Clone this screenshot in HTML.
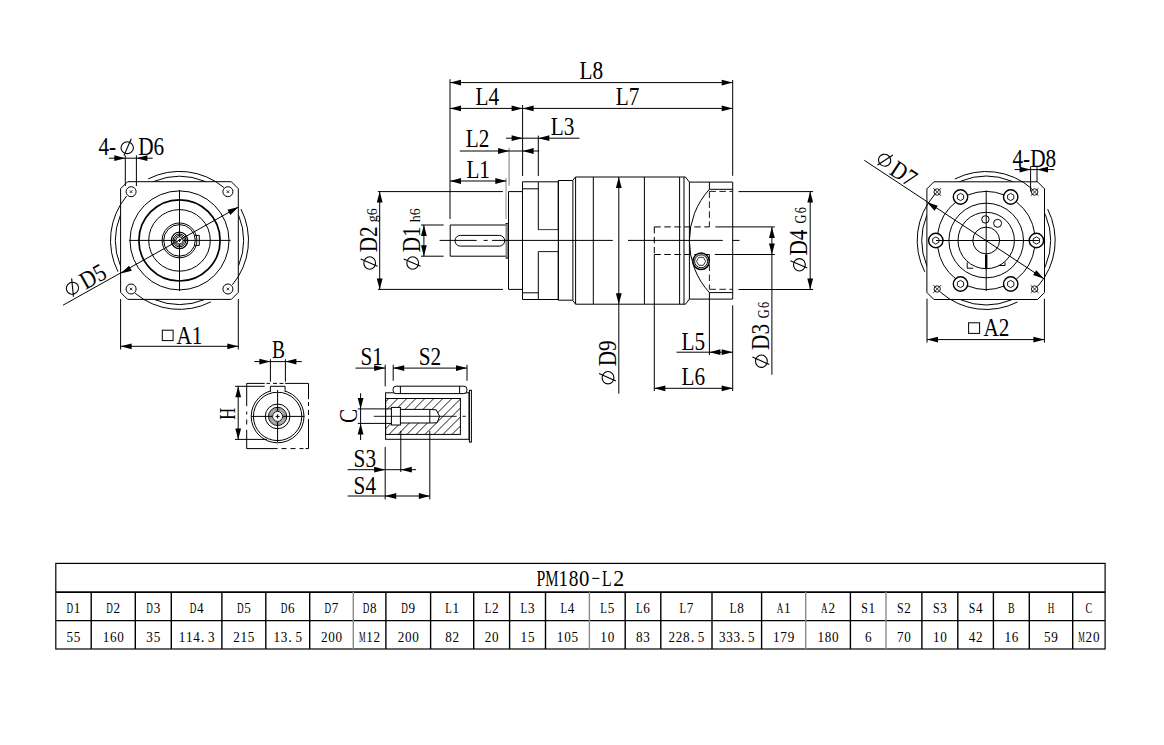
<!DOCTYPE html>
<html><head><meta charset="utf-8"><title>PM180-L2</title>
<style>html,body{margin:0;padding:0;background:#fff;}svg{display:block;}</style></head>
<body><svg width="1164" height="745" viewBox="0 0 1164 745">
<rect width="1164" height="745" fill="#fff"/>
<circle cx="179.50" cy="240.40" r="64.20" fill="none" stroke="#000" stroke-width="1.0"/>
<polygon points="127.60,181.70 231.30,181.70 238.30,188.70 238.30,292.40 231.30,299.40 127.60,299.40 120.60,292.40 120.60,188.70" fill="#fff" stroke="#000" stroke-width="1"/>
<circle cx="131.10" cy="191.70" r="5.00" fill="none" stroke="#000" stroke-width="1.0"/>
<line x1="129.80" y1="190.40" x2="132.40" y2="193.00" stroke="#000" stroke-width="0.8"/>
<line x1="129.80" y1="193.00" x2="132.40" y2="190.40" stroke="#000" stroke-width="0.8"/>
<circle cx="227.90" cy="191.70" r="5.00" fill="none" stroke="#000" stroke-width="1.0"/>
<line x1="226.60" y1="190.40" x2="229.20" y2="193.00" stroke="#000" stroke-width="0.8"/>
<line x1="226.60" y1="193.00" x2="229.20" y2="190.40" stroke="#000" stroke-width="0.8"/>
<circle cx="131.10" cy="289.00" r="5.00" fill="none" stroke="#000" stroke-width="1.0"/>
<line x1="129.80" y1="287.70" x2="132.40" y2="290.30" stroke="#000" stroke-width="0.8"/>
<line x1="129.80" y1="290.30" x2="132.40" y2="287.70" stroke="#000" stroke-width="0.8"/>
<circle cx="227.90" cy="289.00" r="5.00" fill="none" stroke="#000" stroke-width="1.0"/>
<line x1="226.60" y1="287.70" x2="229.20" y2="290.30" stroke="#000" stroke-width="0.8"/>
<line x1="226.60" y1="290.30" x2="229.20" y2="287.70" stroke="#000" stroke-width="0.8"/>
<path d="M148.17,178.92 A69.00,69.00 0 0 1 223.85,187.54" fill="none" stroke="#000" stroke-width="1.0"/>
<path d="M118.02,271.73 A69.00,69.00 0 0 1 126.64,196.05" fill="none" stroke="#000" stroke-width="1.0"/>
<path d="M210.83,301.88 A69.00,69.00 0 0 1 135.15,293.26" fill="none" stroke="#000" stroke-width="1.0"/>
<path d="M240.98,209.07 A69.00,69.00 0 0 1 232.36,284.75" fill="none" stroke="#000" stroke-width="1.0"/>
<circle cx="179.50" cy="240.40" r="49.50" fill="none" stroke="#000" stroke-width="1.0"/>
<circle cx="179.50" cy="240.40" r="40.60" fill="none" stroke="#000" stroke-width="1.7"/>
<circle cx="179.50" cy="240.40" r="30.80" fill="none" stroke="#000" stroke-width="1.0"/>
<circle cx="179.50" cy="240.40" r="17.40" fill="none" stroke="#000" stroke-width="1.0"/>
<circle cx="179.50" cy="240.40" r="15.80" fill="none" stroke="#000" stroke-width="1.0"/>
<circle cx="179.50" cy="240.40" r="8.20" fill="none" stroke="#000" stroke-width="1.3"/>
<circle cx="179.50" cy="240.40" r="6.40" fill="none" stroke="#000" stroke-width="1.0"/>
<circle cx="179.50" cy="240.40" r="4.90" fill="none" stroke="#000" stroke-width="1.0"/>
<circle cx="179.5" cy="240.4" r="3.5" fill="#fff" stroke="#000" stroke-width="0.8"/>
<polyline points="195.10,235.40 199.30,235.40 199.30,245.40 195.10,245.40" fill="none" stroke="#000" stroke-width="1.0"/>
<line x1="129.00" y1="240.40" x2="176.00" y2="240.40" stroke="#000" stroke-width="1.0"/>
<line x1="183.00" y1="240.40" x2="230.60" y2="240.40" stroke="#000" stroke-width="1.0"/>
<line x1="179.50" y1="190.00" x2="179.50" y2="236.90" stroke="#000" stroke-width="1.0"/>
<line x1="179.50" y1="243.90" x2="179.50" y2="291.00" stroke="#000" stroke-width="1.0"/>
<line x1="177.90" y1="240.40" x2="181.10" y2="240.40" stroke="#000" stroke-width="0.9"/>
<line x1="179.50" y1="238.80" x2="179.50" y2="242.00" stroke="#000" stroke-width="0.9"/>
<line x1="63.00" y1="305.20" x2="238.50" y2="207.00" stroke="#000" stroke-width="1.0"/>
<polygon points="238.50,207.00 230.32,214.90 227.48,209.84" fill="#000"/>
<polygon points="120.80,273.60 128.98,265.70 131.82,270.76" fill="#000"/>
<g transform="translate(70.50,298.00) rotate(-29.22893991021987) scale(1.0)" fill="none" stroke="#000" stroke-width="1.1"><ellipse cx="6.5" cy="-7.6" rx="6.2" ry="5.9"/><line x1="3.2" y1="0.3" x2="10.6" y2="-16.6"/></g>
<text transform="translate(85.50,290.00) rotate(-29.22893991021987) scale(0.85,1)" font-family="Liberation Serif" font-size="25" text-anchor="start" fill="#000">D5</text>
<line x1="108.90" y1="158.20" x2="152.70" y2="158.20" stroke="#000" stroke-width="1.0"/>
<line x1="125.30" y1="155.30" x2="125.30" y2="186.00" stroke="#000" stroke-width="1.0"/>
<line x1="136.40" y1="155.30" x2="136.40" y2="186.00" stroke="#000" stroke-width="1.0"/>
<polygon points="125.30,158.20 114.30,161.10 114.30,155.30" fill="#000"/>
<polygon points="136.40,158.20 147.40,155.30 147.40,161.10" fill="#000"/>
<text transform="translate(98.50,155.30) rotate(0) scale(0.85,1)" font-family="Liberation Serif" font-size="25" text-anchor="start" fill="#000">4-</text>
<g transform="translate(120.70,155.30) rotate(0) scale(1.0)" fill="none" stroke="#000" stroke-width="1.1"><ellipse cx="6.5" cy="-7.6" rx="6.2" ry="5.9"/><line x1="3.2" y1="0.3" x2="10.6" y2="-16.6"/></g>
<text transform="translate(138.20,155.30) rotate(0) scale(0.85,1)" font-family="Liberation Serif" font-size="25" text-anchor="start" fill="#000">D6</text>
<line x1="120.60" y1="299.00" x2="120.60" y2="349.50" stroke="#000" stroke-width="1.0"/>
<line x1="238.30" y1="299.00" x2="238.30" y2="349.50" stroke="#000" stroke-width="1.0"/>
<line x1="120.60" y1="346.30" x2="238.30" y2="346.30" stroke="#000" stroke-width="1.0"/>
<polygon points="120.60,346.30 131.60,343.40 131.60,349.20" fill="#000"/>
<polygon points="238.30,346.30 227.30,349.20 227.30,343.40" fill="#000"/>
<rect x="162.3" y="330.2" width="10.8" height="10.4" fill="none" stroke="#000" stroke-width="1"/>
<text transform="translate(176.50,343.50) rotate(0) scale(0.85,1)" font-family="Liberation Serif" font-size="25" text-anchor="start" fill="#000">A1</text>
<line x1="246.70" y1="383.40" x2="264.70" y2="383.40" stroke="#000" stroke-width="1.0"/>
<line x1="285.10" y1="383.40" x2="308.50" y2="383.40" stroke="#000" stroke-width="1.0"/>
<line x1="246.70" y1="383.40" x2="246.70" y2="406.20" stroke="#000" stroke-width="1.0"/>
<line x1="246.70" y1="429.80" x2="246.70" y2="448.60" stroke="#000" stroke-width="1.0"/>
<line x1="308.50" y1="383.40" x2="308.50" y2="399.20" stroke="#000" stroke-width="1.0"/>
<line x1="308.50" y1="419.00" x2="308.50" y2="448.60" stroke="#000" stroke-width="1.0"/>
<line x1="246.70" y1="448.60" x2="277.60" y2="448.60" stroke="#000" stroke-width="1.0"/>
<line x1="305.50" y1="448.60" x2="308.50" y2="448.60" stroke="#000" stroke-width="1.0"/>
<line x1="266.50" y1="383.40" x2="270.00" y2="383.40" stroke="#000" stroke-width="1.0"/>
<line x1="273.00" y1="383.40" x2="277.00" y2="383.40" stroke="#000" stroke-width="1.0"/>
<line x1="279.50" y1="383.40" x2="283.50" y2="383.40" stroke="#000" stroke-width="1.0"/>
<line x1="246.70" y1="411.50" x2="246.70" y2="414.50" stroke="#000" stroke-width="1.0"/>
<line x1="246.70" y1="419.50" x2="246.70" y2="424.50" stroke="#000" stroke-width="1.0"/>
<line x1="308.50" y1="402.00" x2="308.50" y2="406.00" stroke="#000" stroke-width="1.0"/>
<line x1="308.50" y1="410.00" x2="308.50" y2="415.00" stroke="#000" stroke-width="1.0"/>
<line x1="281.50" y1="448.60" x2="286.50" y2="448.60" stroke="#000" stroke-width="1.0"/>
<line x1="290.50" y1="448.60" x2="295.50" y2="448.60" stroke="#000" stroke-width="1.0"/>
<line x1="299.50" y1="448.60" x2="303.50" y2="448.60" stroke="#000" stroke-width="1.0"/>
<circle cx="277.60" cy="416.40" r="26.40" fill="none" stroke="#000" stroke-width="1.0"/>
<circle cx="277.60" cy="416.40" r="24.20" fill="none" stroke="#000" stroke-width="1.0"/>
<circle cx="277.60" cy="416.40" r="12.35" fill="none" stroke="#000" stroke-width="1.0"/>
<circle cx="277.60" cy="416.40" r="9.10" fill="none" stroke="#000" stroke-width="1.0"/>
<circle cx="277.60" cy="416.40" r="8.10" fill="none" stroke="#444" stroke-width="0.6"/>
<circle cx="277.60" cy="416.40" r="7.10" fill="none" stroke="#444" stroke-width="0.6"/>
<circle cx="277.60" cy="416.40" r="6.20" fill="none" stroke="#444" stroke-width="0.6"/>
<circle cx="277.6" cy="416.4" r="5.0" fill="#fff" stroke="#000" stroke-width="1"/>
<rect x="270.4" y="386.3" width="14.7" height="5.5" fill="#fff" stroke="none"/>
<polyline points="270.40,391.60 270.40,386.30 285.10,386.30 285.10,391.60" fill="none" stroke="#000" stroke-width="1.0"/>
<line x1="251.30" y1="416.40" x2="272.20" y2="416.40" stroke="#000" stroke-width="1.0"/>
<line x1="283.00" y1="416.40" x2="304.40" y2="416.40" stroke="#000" stroke-width="1.0"/>
<line x1="277.60" y1="390.00" x2="277.60" y2="411.00" stroke="#000" stroke-width="1.0"/>
<line x1="277.60" y1="421.80" x2="277.60" y2="442.10" stroke="#000" stroke-width="1.0"/>
<line x1="275.50" y1="416.40" x2="279.70" y2="416.40" stroke="#000" stroke-width="1"/>
<line x1="277.60" y1="414.30" x2="277.60" y2="418.50" stroke="#000" stroke-width="1"/>
<line x1="235.00" y1="386.30" x2="264.70" y2="386.30" stroke="#000" stroke-width="1.0"/>
<line x1="235.00" y1="439.40" x2="267.00" y2="439.40" stroke="#000" stroke-width="1.0"/>
<line x1="238.20" y1="386.30" x2="238.20" y2="439.40" stroke="#000" stroke-width="1.0"/>
<polygon points="238.20,386.30 241.10,397.30 235.30,397.30" fill="#000"/>
<polygon points="238.20,439.40 235.30,428.40 241.10,428.40" fill="#000"/>
<text transform="translate(234.80,419.80) rotate(-90) scale(0.7,1)" font-family="Liberation Serif" font-size="23.5" text-anchor="start" fill="#000">H</text>
<line x1="270.40" y1="359.20" x2="270.40" y2="381.70" stroke="#000" stroke-width="1.0"/>
<line x1="285.40" y1="359.20" x2="285.40" y2="381.70" stroke="#000" stroke-width="1.0"/>
<line x1="254.30" y1="361.60" x2="301.80" y2="361.60" stroke="#000" stroke-width="1.0"/>
<polygon points="270.40,361.60 259.40,364.50 259.40,358.70" fill="#000"/>
<polygon points="285.40,361.60 296.40,358.70 296.40,364.50" fill="#000"/>
<text transform="translate(272.00,357.50) rotate(0) scale(0.78,1)" font-family="Liberation Serif" font-size="25" text-anchor="start" fill="#000">B</text>
<defs><clipPath id="hc"><rect x="385.6" y="398.5" width="74.8" height="35.9"/></clipPath></defs>
<g clip-path="url(#hc)"><line x1="335.0" y1="434.4" x2="370.9" y2="398.5" stroke="#000" stroke-width="0.9"/><line x1="344.0" y1="434.4" x2="379.9" y2="398.5" stroke="#000" stroke-width="0.9"/><line x1="353.0" y1="434.4" x2="388.9" y2="398.5" stroke="#000" stroke-width="0.9"/><line x1="362.0" y1="434.4" x2="397.9" y2="398.5" stroke="#000" stroke-width="0.9"/><line x1="371.0" y1="434.4" x2="406.9" y2="398.5" stroke="#000" stroke-width="0.9"/><line x1="380.0" y1="434.4" x2="415.9" y2="398.5" stroke="#000" stroke-width="0.9"/><line x1="389.0" y1="434.4" x2="424.9" y2="398.5" stroke="#000" stroke-width="0.9"/><line x1="398.0" y1="434.4" x2="433.9" y2="398.5" stroke="#000" stroke-width="0.9"/><line x1="407.0" y1="434.4" x2="442.9" y2="398.5" stroke="#000" stroke-width="0.9"/><line x1="416.0" y1="434.4" x2="451.9" y2="398.5" stroke="#000" stroke-width="0.9"/><line x1="425.0" y1="434.4" x2="460.9" y2="398.5" stroke="#000" stroke-width="0.9"/><line x1="434.0" y1="434.4" x2="469.9" y2="398.5" stroke="#000" stroke-width="0.9"/><line x1="443.0" y1="434.4" x2="478.9" y2="398.5" stroke="#000" stroke-width="0.9"/><line x1="452.0" y1="434.4" x2="487.9" y2="398.5" stroke="#000" stroke-width="0.9"/><line x1="461.0" y1="434.4" x2="496.9" y2="398.5" stroke="#000" stroke-width="0.9"/><line x1="470.0" y1="434.4" x2="505.9" y2="398.5" stroke="#000" stroke-width="0.9"/><line x1="479.0" y1="434.4" x2="514.9" y2="398.5" stroke="#000" stroke-width="0.9"/><line x1="488.0" y1="434.4" x2="523.9" y2="398.5" stroke="#000" stroke-width="0.9"/><line x1="497.0" y1="434.4" x2="532.9" y2="398.5" stroke="#000" stroke-width="0.9"/></g>
<rect x="385.6" y="409.4" width="44.2" height="13.6" fill="#fff"/>
<polygon points="429.8,409.4 436.3,409.9 439.6,416.4 437.1,422.8 429.8,423.2" fill="#fff"/>
<rect x="391.4" y="407.4" width="9" height="17.6" fill="#fff" stroke="#000" stroke-width="1"/>
<rect x="385.6" y="398.5" width="74.8" height="35.9" fill="none" stroke="#000" stroke-width="1"/>
<rect x="385.6" y="392.8" width="83.4" height="46.5" fill="none" stroke="#000" stroke-width="1"/>
<rect x="393.1" y="386.2" width="73.8" height="7.4" rx="3" fill="#fff" stroke="#000" stroke-width="1"/>
<line x1="400.40" y1="386.20" x2="400.40" y2="393.60" stroke="#000" stroke-width="1.0"/>
<line x1="459.60" y1="386.20" x2="459.60" y2="393.60" stroke="#000" stroke-width="1.0"/>
<rect x="469.4" y="390.3" width="2.0" height="51.8" fill="none" stroke="#000" stroke-width="1"/>
<line x1="357.80" y1="408.90" x2="391.40" y2="408.90" stroke="#000" stroke-width="1.0"/>
<line x1="357.80" y1="423.40" x2="391.40" y2="423.40" stroke="#000" stroke-width="1.0"/>
<line x1="400.40" y1="409.40" x2="429.80" y2="409.40" stroke="#000" stroke-width="1.0"/>
<line x1="400.40" y1="423.00" x2="429.80" y2="423.00" stroke="#000" stroke-width="1.0"/>
<polyline points="429.80,409.40 436.30,409.90 439.60,416.40 437.10,422.80 429.80,423.00" fill="none" stroke="#000" stroke-width="1.0"/>
<line x1="429.80" y1="409.40" x2="429.80" y2="423.00" stroke="#000" stroke-width="1.0"/>
<line x1="373.80" y1="416.30" x2="456.70" y2="416.30" stroke="#000" stroke-width="0.9"/>
<line x1="462.40" y1="416.30" x2="465.70" y2="416.30" stroke="#000" stroke-width="0.9"/>
<line x1="360.60" y1="393.20" x2="360.60" y2="440.00" stroke="#000" stroke-width="1.0"/>
<polygon points="360.60,408.90 357.70,397.90 363.50,397.90" fill="#000"/>
<polygon points="360.60,423.40 363.50,434.40 357.70,434.40" fill="#000"/>
<text transform="translate(356.70,423.00) rotate(-90) scale(0.85,1)" font-family="Liberation Serif" font-size="25" text-anchor="start" fill="#000">C</text>
<line x1="385.20" y1="364.70" x2="385.20" y2="386.40" stroke="#000" stroke-width="1.0"/>
<line x1="393.20" y1="364.70" x2="393.20" y2="380.70" stroke="#000" stroke-width="1.0"/>
<line x1="467.00" y1="364.70" x2="467.00" y2="380.70" stroke="#000" stroke-width="1.0"/>
<line x1="355.50" y1="368.10" x2="385.20" y2="368.10" stroke="#000" stroke-width="1.0"/>
<polygon points="385.20,368.10 374.20,371.00 374.20,365.20" fill="#000"/>
<line x1="393.20" y1="368.10" x2="467.00" y2="368.10" stroke="#000" stroke-width="1.0"/>
<polygon points="393.20,368.10 404.20,365.20 404.20,371.00" fill="#000"/>
<polygon points="467.00,368.10 456.00,371.00 456.00,365.20" fill="#000"/>
<text transform="translate(360.50,364.70) rotate(0) scale(0.85,1)" font-family="Liberation Serif" font-size="25" text-anchor="start" fill="#000">S1</text>
<text transform="translate(418.80,364.70) rotate(0) scale(0.85,1)" font-family="Liberation Serif" font-size="25" text-anchor="start" fill="#000">S2</text>
<line x1="385.20" y1="446.90" x2="385.20" y2="499.40" stroke="#000" stroke-width="1.0"/>
<line x1="400.80" y1="430.90" x2="400.80" y2="472.00" stroke="#000" stroke-width="1.0"/>
<line x1="429.80" y1="430.90" x2="429.80" y2="499.40" stroke="#000" stroke-width="1.0"/>
<line x1="347.60" y1="469.70" x2="416.10" y2="469.70" stroke="#000" stroke-width="1.0"/>
<polygon points="385.20,469.70 374.20,472.60 374.20,466.80" fill="#000"/>
<polygon points="400.80,469.70 411.80,466.80 411.80,472.60" fill="#000"/>
<line x1="347.60" y1="496.00" x2="429.80" y2="496.00" stroke="#000" stroke-width="1.0"/>
<polygon points="385.20,496.00 396.20,493.10 396.20,498.90" fill="#000"/>
<polygon points="429.80,496.00 418.80,498.90 418.80,493.10" fill="#000"/>
<text transform="translate(353.60,467.40) rotate(0) scale(0.85,1)" font-family="Liberation Serif" font-size="25" text-anchor="start" fill="#000">S3</text>
<text transform="translate(353.60,493.70) rotate(0) scale(0.85,1)" font-family="Liberation Serif" font-size="25" text-anchor="start" fill="#000">S4</text>
<polygon points="450.20,225.00 506.40,225.00 506.40,256.20 450.20,256.20" fill="none" stroke="#000" stroke-width="1.0"/>
<rect x="505.6" y="223.6" width="2.4" height="34.5" fill="#888" stroke="none"/>
<line x1="505.60" y1="223.60" x2="508.50" y2="223.60" stroke="#000" stroke-width="1"/>
<line x1="505.60" y1="258.10" x2="508.50" y2="258.10" stroke="#000" stroke-width="1"/>
<rect x="455" y="235.4" width="49.7" height="10.7" rx="5.3" fill="none" stroke="#000" stroke-width="1"/>
<polygon points="508.50,191.60 522.50,191.60 522.50,289.40 508.50,289.40" fill="none" stroke="#000" stroke-width="1.0"/>
<polyline points="538.30,181.80 522.50,181.80 522.50,299.50 538.30,299.50" fill="none" stroke="#000" stroke-width="1.0"/>
<line x1="522.50" y1="188.80" x2="538.30" y2="188.80" stroke="#000" stroke-width="1.0"/>
<line x1="522.50" y1="292.80" x2="538.30" y2="292.80" stroke="#000" stroke-width="1.0"/>
<polyline points="538.30,181.80 558.30,181.80 558.30,299.50 538.30,299.50" fill="none" stroke="#000" stroke-width="1.0"/>
<line x1="538.30" y1="229.80" x2="558.30" y2="229.80" stroke="#000" stroke-width="1.0"/>
<line x1="538.30" y1="251.60" x2="558.30" y2="251.60" stroke="#000" stroke-width="1.0"/>
<rect x="538.8" y="230.3" width="19" height="20.8" fill="#fff"/>
<line x1="538.30" y1="181.80" x2="538.30" y2="229.80" stroke="#000" stroke-width="1.0"/>
<line x1="538.30" y1="251.60" x2="538.30" y2="299.50" stroke="#000" stroke-width="1.0"/>
<polyline points="558.30,180.50 572.60,180.50 575.60,177.00" fill="none" stroke="#000" stroke-width="1.0"/>
<polyline points="558.30,300.20 572.60,300.20 575.60,304.20" fill="none" stroke="#000" stroke-width="1.0"/>
<line x1="558.30" y1="180.50" x2="558.30" y2="300.20" stroke="#000" stroke-width="1.0"/>
<line x1="572.90" y1="180.50" x2="572.90" y2="300.20" stroke="#000" stroke-width="1.0"/>
<line x1="575.60" y1="177.00" x2="685.50" y2="177.00" stroke="#000" stroke-width="1.0"/>
<line x1="575.60" y1="304.20" x2="685.50" y2="304.20" stroke="#000" stroke-width="1.0"/>
<line x1="575.60" y1="177.00" x2="575.60" y2="304.20" stroke="#000" stroke-width="1.0"/>
<line x1="593.30" y1="177.00" x2="593.30" y2="304.20" stroke="#000" stroke-width="1.0"/>
<line x1="644.40" y1="177.00" x2="644.40" y2="304.20" stroke="#000" stroke-width="1.0"/>
<line x1="679.60" y1="177.00" x2="679.60" y2="304.20" stroke="#000" stroke-width="1.0"/>
<line x1="684.00" y1="177.00" x2="684.00" y2="304.20" stroke="#000" stroke-width="1.0"/>
<polyline points="685.50,177.00 689.40,182.10" fill="none" stroke="#000" stroke-width="1.0"/>
<polyline points="685.50,304.20 689.40,299.10" fill="none" stroke="#000" stroke-width="1.0"/>
<polygon points="689.40,182.10 732.70,182.10 732.70,299.10 689.40,299.10" fill="none" stroke="#000" stroke-width="1.0"/>
<line x1="709.40" y1="182.10" x2="709.40" y2="189.30" stroke="#000" stroke-width="1.0"/>
<line x1="709.40" y1="292.60" x2="709.40" y2="299.10" stroke="#000" stroke-width="1.0"/>
<line x1="709.40" y1="189.30" x2="732.70" y2="189.30" stroke="#000" stroke-width="1.0"/>
<line x1="709.40" y1="292.60" x2="732.70" y2="292.60" stroke="#000" stroke-width="1.0"/>
<line x1="709.40" y1="191.40" x2="732.70" y2="191.40" stroke="#000" stroke-width="0.9" stroke-dasharray="6.5,3.5"/>
<line x1="709.40" y1="289.30" x2="732.70" y2="289.30" stroke="#000" stroke-width="0.9" stroke-dasharray="6.5,3.5"/>
<path d="M709.4,189.3 A76.6,76.6 0 0 0 709.4,292.6" fill="none" stroke="#000" stroke-width="1"/>
<line x1="709.40" y1="191.40" x2="709.40" y2="226.90" stroke="#000" stroke-width="0.9" stroke-dasharray="6.5,3.5"/>
<line x1="709.40" y1="254.50" x2="709.40" y2="289.30" stroke="#000" stroke-width="0.9" stroke-dasharray="6.5,3.5"/>
<line x1="654.30" y1="226.90" x2="709.40" y2="226.90" stroke="#000" stroke-width="1" stroke-dasharray="6.5,3.5"/>
<line x1="654.30" y1="254.50" x2="709.40" y2="254.50" stroke="#000" stroke-width="1" stroke-dasharray="6.5,3.5"/>
<line x1="654.30" y1="226.90" x2="654.30" y2="254.50" stroke="#000" stroke-width="1" stroke-dasharray="6.5,3.5"/>
<circle cx="701.1" cy="261.3" r="8.2" fill="#fff" stroke="#000" stroke-width="1.5"/>
<circle cx="701.10" cy="261.30" r="6.50" fill="none" stroke="#000" stroke-width="1.0"/>
<polygon points="705.70,261.30 703.40,265.28 698.80,265.28 696.50,261.30 698.80,257.32 703.40,257.32" fill="none" stroke="#000" stroke-width="0.8"/>
<line x1="439.60" y1="240.40" x2="476.70" y2="240.40" stroke="#000" stroke-width="1.0"/>
<line x1="483.60" y1="240.40" x2="487.70" y2="240.40" stroke="#000" stroke-width="1.0"/>
<line x1="491.90" y1="240.40" x2="612.80" y2="240.40" stroke="#000" stroke-width="1.0"/>
<line x1="628.00" y1="240.40" x2="722.80" y2="240.40" stroke="#000" stroke-width="1.0"/>
<line x1="732.70" y1="240.40" x2="739.50" y2="240.40" stroke="#000" stroke-width="1.0"/>
<line x1="377.90" y1="191.60" x2="502.90" y2="191.60" stroke="#000" stroke-width="1.0"/>
<line x1="377.90" y1="289.40" x2="502.90" y2="289.40" stroke="#000" stroke-width="1.0"/>
<line x1="379.70" y1="191.60" x2="379.70" y2="289.40" stroke="#000" stroke-width="1.0"/>
<polygon points="379.70,191.60 382.60,202.60 376.80,202.60" fill="#000"/>
<polygon points="379.70,289.40 376.80,278.40 382.60,278.40" fill="#000"/>
<line x1="421.00" y1="225.00" x2="443.60" y2="225.00" stroke="#000" stroke-width="1.0"/>
<line x1="421.00" y1="256.20" x2="443.60" y2="256.20" stroke="#000" stroke-width="1.0"/>
<line x1="423.90" y1="225.00" x2="423.90" y2="256.20" stroke="#000" stroke-width="1.0"/>
<polygon points="423.90,225.00 426.80,236.00 421.00,236.00" fill="#000"/>
<polygon points="423.90,256.20 421.00,245.20 426.80,245.20" fill="#000"/>
<g transform="translate(377.30,269.50) rotate(-90) scale(1.0)" fill="none" stroke="#000" stroke-width="1.1"><ellipse cx="6.5" cy="-7.6" rx="6.2" ry="5.9"/><line x1="3.2" y1="0.3" x2="10.6" y2="-16.6"/></g>
<text transform="translate(377.30,252.30) rotate(-90) scale(0.85,1)" font-family="Liberation Serif" font-size="25" text-anchor="start" fill="#000">D2</text>
<text transform="translate(377.00,222.30) rotate(-90) scale(1.0,1)" font-family="Liberation Serif" font-size="14" text-anchor="start" fill="#000">g6</text>
<g transform="translate(420.30,269.50) rotate(-90) scale(1.0)" fill="none" stroke="#000" stroke-width="1.1"><ellipse cx="6.5" cy="-7.6" rx="6.2" ry="5.9"/><line x1="3.2" y1="0.3" x2="10.6" y2="-16.6"/></g>
<text transform="translate(420.30,252.30) rotate(-90) scale(0.85,1)" font-family="Liberation Serif" font-size="25" text-anchor="start" fill="#000">D1</text>
<text transform="translate(419.60,222.30) rotate(-90) scale(1.0,1)" font-family="Liberation Serif" font-size="14" text-anchor="start" fill="#000">h6</text>
<line x1="618.80" y1="177.00" x2="618.80" y2="393.70" stroke="#000" stroke-width="1.0"/>
<polygon points="618.80,177.00 621.70,188.00 615.90,188.00" fill="#000"/>
<polygon points="618.80,304.20 615.90,293.20 621.70,293.20" fill="#000"/>
<g transform="translate(615.60,384.20) rotate(-90) scale(1.0)" fill="none" stroke="#000" stroke-width="1.1"><ellipse cx="6.5" cy="-7.6" rx="6.2" ry="5.9"/><line x1="3.2" y1="0.3" x2="10.6" y2="-16.6"/></g>
<text transform="translate(615.60,366.30) rotate(-90) scale(0.85,1)" font-family="Liberation Serif" font-size="25" text-anchor="start" fill="#000">D9</text>
<line x1="715.40" y1="226.90" x2="774.80" y2="226.90" stroke="#000" stroke-width="1.0"/>
<line x1="714.80" y1="254.50" x2="774.80" y2="254.50" stroke="#000" stroke-width="1.0"/>
<line x1="771.90" y1="226.90" x2="771.90" y2="374.80" stroke="#000" stroke-width="1.0"/>
<polygon points="771.90,226.90 774.80,237.90 769.00,237.90" fill="#000"/>
<polygon points="771.90,254.50 769.00,243.50 774.80,243.50" fill="#000"/>
<line x1="738.50" y1="191.60" x2="813.10" y2="191.60" stroke="#000" stroke-width="1.0"/>
<line x1="738.50" y1="289.50" x2="813.10" y2="289.50" stroke="#000" stroke-width="1.0"/>
<line x1="810.20" y1="191.60" x2="810.20" y2="289.50" stroke="#000" stroke-width="1.0"/>
<polygon points="810.20,191.60 813.10,202.60 807.30,202.60" fill="#000"/>
<polygon points="810.20,289.50 807.30,278.50 813.10,278.50" fill="#000"/>
<g transform="translate(807.00,271.30) rotate(-90) scale(1.0)" fill="none" stroke="#000" stroke-width="1.1"><ellipse cx="6.5" cy="-7.6" rx="6.2" ry="5.9"/><line x1="3.2" y1="0.3" x2="10.6" y2="-16.6"/></g>
<text transform="translate(807.00,255.60) rotate(-90) scale(0.85,1)" font-family="Liberation Serif" font-size="25" text-anchor="start" fill="#000">D4</text>
<text transform="translate(806.30,223.40) rotate(-90) scale(0.72,1)" font-family="Liberation Serif" font-size="17" text-anchor="start" fill="#000" letter-spacing="2">G6</text>
<g transform="translate(769.00,367.70) rotate(-90) scale(1.0)" fill="none" stroke="#000" stroke-width="1.1"><ellipse cx="6.5" cy="-7.6" rx="6.2" ry="5.9"/><line x1="3.2" y1="0.3" x2="10.6" y2="-16.6"/></g>
<text transform="translate(769.00,349.90) rotate(-90) scale(0.85,1)" font-family="Liberation Serif" font-size="25" text-anchor="start" fill="#000">D3</text>
<text transform="translate(768.70,318.20) rotate(-90) scale(0.72,1)" font-family="Liberation Serif" font-size="17" text-anchor="start" fill="#000" letter-spacing="2">G6</text>
<line x1="654.30" y1="254.50" x2="654.30" y2="391.00" stroke="#000" stroke-width="1.0"/>
<line x1="732.70" y1="305.30" x2="732.70" y2="391.00" stroke="#000" stroke-width="1.0"/>
<line x1="709.40" y1="299.10" x2="709.40" y2="355.00" stroke="#000" stroke-width="1.0"/>
<line x1="654.30" y1="388.30" x2="732.70" y2="388.30" stroke="#000" stroke-width="1.0"/>
<polygon points="654.30,388.30 665.30,385.40 665.30,391.20" fill="#000"/>
<polygon points="732.70,388.30 721.70,391.20 721.70,385.40" fill="#000"/>
<line x1="676.50" y1="352.20" x2="732.70" y2="352.20" stroke="#000" stroke-width="1.0"/>
<polygon points="709.40,352.20 720.40,349.30 720.40,355.10" fill="#000"/>
<polygon points="732.70,352.20 721.70,355.10 721.70,349.30" fill="#000"/>
<text transform="translate(681.50,349.50) rotate(0) scale(0.85,1)" font-family="Liberation Serif" font-size="25" text-anchor="start" fill="#000">L5</text>
<text transform="translate(681.50,385.30) rotate(0) scale(0.85,1)" font-family="Liberation Serif" font-size="25" text-anchor="start" fill="#000">L6</text>
<line x1="450.00" y1="79.20" x2="450.00" y2="219.00" stroke="#000" stroke-width="1.0"/>
<line x1="732.70" y1="80.00" x2="732.70" y2="175.80" stroke="#000" stroke-width="1.0"/>
<line x1="522.60" y1="105.00" x2="522.60" y2="176.00" stroke="#000" stroke-width="1.0"/>
<line x1="538.30" y1="135.60" x2="538.30" y2="176.00" stroke="#000" stroke-width="1.0"/>
<line x1="509.10" y1="147.80" x2="509.10" y2="185.60" stroke="#777" stroke-width="1"/>
<line x1="506.00" y1="178.00" x2="506.00" y2="219.00" stroke="#888" stroke-width="1"/>
<line x1="450.00" y1="82.60" x2="732.70" y2="82.60" stroke="#000" stroke-width="1.0"/>
<polygon points="450.00,82.60 461.00,79.70 461.00,85.50" fill="#000"/>
<polygon points="732.70,82.60 721.70,85.50 721.70,79.70" fill="#000"/>
<line x1="450.00" y1="108.40" x2="732.70" y2="108.40" stroke="#000" stroke-width="1.0"/>
<polygon points="450.00,108.40 461.00,105.50 461.00,111.30" fill="#000"/>
<polygon points="522.60,108.40 511.60,111.30 511.60,105.50" fill="#000"/>
<polygon points="522.60,108.40 533.60,105.50 533.60,111.30" fill="#000"/>
<polygon points="732.70,108.40 721.70,111.30 721.70,105.50" fill="#000"/>
<line x1="506.00" y1="138.20" x2="579.50" y2="138.20" stroke="#000" stroke-width="1.0"/>
<polygon points="522.60,138.20 511.60,141.10 511.60,135.30" fill="#000"/>
<polygon points="538.30,138.20 549.30,135.30 549.30,141.10" fill="#000"/>
<line x1="459.80" y1="151.00" x2="539.20" y2="151.00" stroke="#000" stroke-width="1.0"/>
<polygon points="509.10,151.00 498.10,153.90 498.10,148.10" fill="#000"/>
<polygon points="522.60,151.00 533.60,148.10 533.60,153.90" fill="#000"/>
<line x1="450.00" y1="181.00" x2="506.30" y2="181.00" stroke="#000" stroke-width="1.0"/>
<polygon points="450.00,181.00 461.00,178.10 461.00,183.90" fill="#000"/>
<polygon points="506.30,181.00 495.30,183.90 495.30,178.10" fill="#000"/>
<text transform="translate(579.50,79.20) rotate(0) scale(0.85,1)" font-family="Liberation Serif" font-size="25" text-anchor="start" fill="#000">L8</text>
<text transform="translate(475.50,105.00) rotate(0) scale(0.85,1)" font-family="Liberation Serif" font-size="25" text-anchor="start" fill="#000">L4</text>
<text transform="translate(615.80,105.40) rotate(0) scale(0.85,1)" font-family="Liberation Serif" font-size="25" text-anchor="start" fill="#000">L7</text>
<text transform="translate(550.80,135.00) rotate(0) scale(0.85,1)" font-family="Liberation Serif" font-size="25" text-anchor="start" fill="#000">L3</text>
<text transform="translate(465.80,147.10) rotate(0) scale(0.85,1)" font-family="Liberation Serif" font-size="25" text-anchor="start" fill="#000">L2</text>
<text transform="translate(466.40,177.80) rotate(0) scale(0.85,1)" font-family="Liberation Serif" font-size="25" text-anchor="start" fill="#000">L1</text>
<circle cx="986.20" cy="240.50" r="64.50" fill="none" stroke="#000" stroke-width="1.0"/>
<polygon points="933.90,181.80 1037.50,181.80 1044.50,188.80 1044.50,292.50 1037.50,299.50 933.90,299.50 926.90,292.50 926.90,188.80" fill="#fff" stroke="#000" stroke-width="1"/>
<circle cx="937.20" cy="192.00" r="3.20" fill="none" stroke="#000" stroke-width="0.9"/>
<line x1="933.30" y1="188.10" x2="941.10" y2="195.90" stroke="#000" stroke-width="0.8"/>
<line x1="933.30" y1="195.90" x2="941.10" y2="188.10" stroke="#000" stroke-width="0.8"/>
<circle cx="1034.60" cy="192.00" r="3.20" fill="none" stroke="#000" stroke-width="0.9"/>
<line x1="1030.70" y1="188.10" x2="1038.50" y2="195.90" stroke="#000" stroke-width="0.8"/>
<line x1="1030.70" y1="195.90" x2="1038.50" y2="188.10" stroke="#000" stroke-width="0.8"/>
<circle cx="937.20" cy="289.00" r="3.20" fill="none" stroke="#000" stroke-width="0.9"/>
<line x1="933.30" y1="285.10" x2="941.10" y2="292.90" stroke="#000" stroke-width="0.8"/>
<line x1="933.30" y1="292.90" x2="941.10" y2="285.10" stroke="#000" stroke-width="0.8"/>
<circle cx="1034.60" cy="289.00" r="3.20" fill="none" stroke="#000" stroke-width="0.9"/>
<line x1="1030.70" y1="285.10" x2="1038.50" y2="292.90" stroke="#000" stroke-width="0.8"/>
<line x1="1030.70" y1="292.90" x2="1038.50" y2="285.10" stroke="#000" stroke-width="0.8"/>
<circle cx="960.5" cy="197.0" r="7.2" fill="#fff" stroke="#000" stroke-width="1.4"/>
<polygon points="963.62,198.80 960.50,200.60 957.38,198.80 957.38,195.20 960.50,193.40 963.62,195.20" fill="none" stroke="#000" stroke-width="0.9"/>
<circle cx="1010.7" cy="197.0" r="7.2" fill="#fff" stroke="#000" stroke-width="1.4"/>
<polygon points="1013.82,198.80 1010.70,200.60 1007.58,198.80 1007.58,195.20 1010.70,193.40 1013.82,195.20" fill="none" stroke="#000" stroke-width="0.9"/>
<circle cx="935.8" cy="240.5" r="7.2" fill="#fff" stroke="#000" stroke-width="1.4"/>
<polygon points="938.92,242.30 935.80,244.10 932.68,242.30 932.68,238.70 935.80,236.90 938.92,238.70" fill="none" stroke="#000" stroke-width="0.9"/>
<circle cx="1036.4" cy="240.5" r="7.2" fill="#fff" stroke="#000" stroke-width="1.4"/>
<polygon points="1039.52,242.30 1036.40,244.10 1033.28,242.30 1033.28,238.70 1036.40,236.90 1039.52,238.70" fill="none" stroke="#000" stroke-width="0.9"/>
<circle cx="960.5" cy="284.0" r="7.2" fill="#fff" stroke="#000" stroke-width="1.4"/>
<polygon points="963.62,285.80 960.50,287.60 957.38,285.80 957.38,282.20 960.50,280.40 963.62,282.20" fill="none" stroke="#000" stroke-width="0.9"/>
<circle cx="1010.7" cy="284.0" r="7.2" fill="#fff" stroke="#000" stroke-width="1.4"/>
<polygon points="1013.82,285.80 1010.70,287.60 1007.58,285.80 1007.58,282.20 1010.70,280.40 1013.82,282.20" fill="none" stroke="#000" stroke-width="0.9"/>
<path d="M954.87,179.02 A69.00,69.00 0 0 1 1031.47,188.43" fill="none" stroke="#000" stroke-width="1.0"/>
<path d="M924.72,271.83 A69.00,69.00 0 0 1 934.13,195.23" fill="none" stroke="#000" stroke-width="1.0"/>
<path d="M1017.53,301.98 A69.00,69.00 0 0 1 940.93,292.57" fill="none" stroke="#000" stroke-width="1.0"/>
<path d="M1047.68,209.17 A69.00,69.00 0 0 1 1038.27,285.77" fill="none" stroke="#000" stroke-width="1.0"/>
<path d="M967.84,195.07 A49.00,49.00 0 0 1 1004.56,195.07" fill="none" stroke="#000" stroke-width="1.0"/>
<path d="M1016.37,201.89 A49.00,49.00 0 0 1 1034.72,233.68" fill="none" stroke="#000" stroke-width="1.0"/>
<path d="M1034.72,247.32 A49.00,49.00 0 0 1 1016.37,279.11" fill="none" stroke="#000" stroke-width="1.0"/>
<path d="M1004.56,285.93 A49.00,49.00 0 0 1 967.84,285.93" fill="none" stroke="#000" stroke-width="1.0"/>
<path d="M956.03,279.11 A49.00,49.00 0 0 1 937.68,247.32" fill="none" stroke="#000" stroke-width="1.0"/>
<path d="M937.68,233.68 A49.00,49.00 0 0 1 956.03,201.89" fill="none" stroke="#000" stroke-width="1.0"/>
<circle cx="986.20" cy="240.50" r="37.30" fill="none" stroke="#000" stroke-width="1.0"/>
<circle cx="986.20" cy="240.50" r="28.20" fill="none" stroke="#000" stroke-width="1.0"/>
<circle cx="986.20" cy="240.50" r="13.40" fill="none" stroke="#000" stroke-width="1.0"/>
<circle cx="985.40" cy="219.40" r="3.70" fill="none" stroke="#000" stroke-width="1.0"/>
<circle cx="997.60" cy="223.30" r="4.00" fill="none" stroke="#000" stroke-width="1.0"/>
<polyline points="967.20,262.40 967.20,268.20 973.30,268.20" fill="none" stroke="#000" stroke-width="1.0"/>
<polyline points="998.80,265.50 1005.00,265.50 1005.00,262.40" fill="none" stroke="#000" stroke-width="1.0"/>
<line x1="936.00" y1="240.50" x2="1038.90" y2="240.50" stroke="#000" stroke-width="1.0"/>
<line x1="986.20" y1="190.50" x2="986.20" y2="291.00" stroke="#000" stroke-width="1.0"/>
<rect x="985.0" y="254.6" width="2.4" height="14" fill="#000"/>
<line x1="864.30" y1="160.30" x2="1043.90" y2="278.70" stroke="#000" stroke-width="1.0"/>
<polygon points="927.00,202.20 937.78,205.83 934.59,210.68" fill="#000"/>
<polygon points="1043.90,278.70 1033.12,275.07 1036.31,270.22" fill="#000"/>
<g transform="translate(875.00,163.00) rotate(33.394578760934955) scale(1.0)" fill="none" stroke="#000" stroke-width="1.1"><ellipse cx="6.5" cy="-7.6" rx="6.2" ry="5.9"/><line x1="3.2" y1="0.3" x2="10.6" y2="-16.6"/></g>
<text transform="translate(888.20,173.60) rotate(33.394578760934955) scale(0.85,1)" font-family="Liberation Serif" font-size="25" text-anchor="start" fill="#000">D7</text>
<line x1="1014.60" y1="169.60" x2="1054.20" y2="169.60" stroke="#000" stroke-width="1.0"/>
<line x1="1030.60" y1="166.60" x2="1030.60" y2="191.50" stroke="#000" stroke-width="1.0"/>
<line x1="1037.00" y1="166.60" x2="1037.00" y2="182.00" stroke="#000" stroke-width="1.0"/>
<polygon points="1030.60,169.60 1019.60,172.50 1019.60,166.70" fill="#000"/>
<polygon points="1037.00,169.60 1048.00,166.70 1048.00,172.50" fill="#000"/>
<text transform="translate(1012.50,166.60) rotate(0) scale(0.85,1)" font-family="Liberation Serif" font-size="25" text-anchor="start" fill="#000">4-D8</text>
<line x1="927.00" y1="298.70" x2="927.00" y2="342.70" stroke="#000" stroke-width="1.0"/>
<line x1="1044.40" y1="298.70" x2="1044.40" y2="342.70" stroke="#000" stroke-width="1.0"/>
<line x1="927.00" y1="339.60" x2="1044.40" y2="339.60" stroke="#000" stroke-width="1.0"/>
<polygon points="927.00,339.60 938.00,336.70 938.00,342.50" fill="#000"/>
<polygon points="1044.40,339.60 1033.40,342.50 1033.40,336.70" fill="#000"/>
<rect x="968.6" y="322.8" width="11" height="10.6" fill="none" stroke="#000" stroke-width="1"/>
<text transform="translate(983.50,336.20) rotate(0) scale(0.85,1)" font-family="Liberation Serif" font-size="25" text-anchor="start" fill="#000">A2</text>
<rect x="55.8" y="563.4" width="1049.3" height="85.6" fill="none" stroke="#000" stroke-width="1.2"/>
<line x1="55.80" y1="592.10" x2="1105.10" y2="592.10" stroke="#000" stroke-width="1.6"/>
<line x1="55.80" y1="620.60" x2="1105.10" y2="620.60" stroke="#000" stroke-width="1.4"/>
<line x1="91.20" y1="592.10" x2="91.20" y2="649.00" stroke="#000" stroke-width="1.4"/>
<line x1="135.30" y1="592.10" x2="135.30" y2="649.00" stroke="#000" stroke-width="1.4"/>
<line x1="171.30" y1="592.10" x2="171.30" y2="649.00" stroke="#000" stroke-width="1.4"/>
<line x1="221.90" y1="592.10" x2="221.90" y2="649.00" stroke="#000" stroke-width="1.4"/>
<line x1="265.80" y1="592.10" x2="265.80" y2="649.00" stroke="#000" stroke-width="1.4"/>
<line x1="309.70" y1="592.10" x2="309.70" y2="649.00" stroke="#000" stroke-width="1.4"/>
<line x1="353.30" y1="592.10" x2="353.30" y2="649.00" stroke="#8a8a8a" stroke-width="1.4"/>
<line x1="385.90" y1="592.10" x2="385.90" y2="649.00" stroke="#000" stroke-width="1.4"/>
<line x1="430.60" y1="592.10" x2="430.60" y2="649.00" stroke="#000" stroke-width="1.4"/>
<line x1="473.70" y1="592.10" x2="473.70" y2="649.00" stroke="#000" stroke-width="1.4"/>
<line x1="509.60" y1="592.10" x2="509.60" y2="649.00" stroke="#000" stroke-width="1.4"/>
<line x1="545.50" y1="592.10" x2="545.50" y2="649.00" stroke="#000" stroke-width="1.4"/>
<line x1="589.40" y1="592.10" x2="589.40" y2="649.00" stroke="#8a8a8a" stroke-width="1.4"/>
<line x1="625.20" y1="592.10" x2="625.20" y2="649.00" stroke="#000" stroke-width="1.4"/>
<line x1="660.80" y1="592.10" x2="660.80" y2="649.00" stroke="#000" stroke-width="1.4"/>
<line x1="712.00" y1="592.10" x2="712.00" y2="649.00" stroke="#000" stroke-width="1.4"/>
<line x1="761.60" y1="592.10" x2="761.60" y2="649.00" stroke="#000" stroke-width="1.4"/>
<line x1="805.70" y1="592.10" x2="805.70" y2="649.00" stroke="#8a8a8a" stroke-width="1.4"/>
<line x1="850.40" y1="592.10" x2="850.40" y2="649.00" stroke="#000" stroke-width="1.4"/>
<line x1="886.00" y1="592.10" x2="886.00" y2="649.00" stroke="#8a8a8a" stroke-width="1.4"/>
<line x1="921.90" y1="592.10" x2="921.90" y2="649.00" stroke="#000" stroke-width="1.4"/>
<line x1="957.80" y1="592.10" x2="957.80" y2="649.00" stroke="#000" stroke-width="1.4"/>
<line x1="993.40" y1="592.10" x2="993.40" y2="649.00" stroke="#000" stroke-width="1.4"/>
<line x1="1029.30" y1="592.10" x2="1029.30" y2="649.00" stroke="#000" stroke-width="1.4"/>
<line x1="1072.70" y1="592.10" x2="1072.70" y2="649.00" stroke="#000" stroke-width="1.4"/>
<text transform="translate(69.85,613.00) scale(0.615,1)" font-family="Liberation Serif" font-size="14.8" text-anchor="middle" fill="#000">D</text>
<text transform="translate(77.15,613.00) scale(0.888,1)" font-family="Liberation Serif" font-size="14.8" text-anchor="middle" fill="#000">1</text>
<text transform="translate(69.85,641.80) scale(0.888,1)" font-family="Liberation Serif" font-size="14.8" text-anchor="middle" fill="#000">5</text>
<text transform="translate(77.15,641.80) scale(0.888,1)" font-family="Liberation Serif" font-size="14.8" text-anchor="middle" fill="#000">5</text>
<text transform="translate(109.60,613.00) scale(0.615,1)" font-family="Liberation Serif" font-size="14.8" text-anchor="middle" fill="#000">D</text>
<text transform="translate(116.90,613.00) scale(0.888,1)" font-family="Liberation Serif" font-size="14.8" text-anchor="middle" fill="#000">2</text>
<text transform="translate(105.95,641.80) scale(0.888,1)" font-family="Liberation Serif" font-size="14.8" text-anchor="middle" fill="#000">1</text>
<text transform="translate(113.25,641.80) scale(0.888,1)" font-family="Liberation Serif" font-size="14.8" text-anchor="middle" fill="#000">6</text>
<text transform="translate(120.55,641.80) scale(0.888,1)" font-family="Liberation Serif" font-size="14.8" text-anchor="middle" fill="#000">0</text>
<text transform="translate(149.65,613.00) scale(0.615,1)" font-family="Liberation Serif" font-size="14.8" text-anchor="middle" fill="#000">D</text>
<text transform="translate(156.95,613.00) scale(0.888,1)" font-family="Liberation Serif" font-size="14.8" text-anchor="middle" fill="#000">3</text>
<text transform="translate(149.65,641.80) scale(0.888,1)" font-family="Liberation Serif" font-size="14.8" text-anchor="middle" fill="#000">3</text>
<text transform="translate(156.95,641.80) scale(0.888,1)" font-family="Liberation Serif" font-size="14.8" text-anchor="middle" fill="#000">5</text>
<text transform="translate(192.95,613.00) scale(0.615,1)" font-family="Liberation Serif" font-size="14.8" text-anchor="middle" fill="#000">D</text>
<text transform="translate(200.25,613.00) scale(0.888,1)" font-family="Liberation Serif" font-size="14.8" text-anchor="middle" fill="#000">4</text>
<text transform="translate(182.00,641.80) scale(0.888,1)" font-family="Liberation Serif" font-size="14.8" text-anchor="middle" fill="#000">1</text>
<text transform="translate(189.30,641.80) scale(0.888,1)" font-family="Liberation Serif" font-size="14.8" text-anchor="middle" fill="#000">1</text>
<text transform="translate(196.60,641.80) scale(0.888,1)" font-family="Liberation Serif" font-size="14.8" text-anchor="middle" fill="#000">4</text>
<text x="200.85" y="641.80" font-family="Liberation Serif" font-size="14.8" fill="#000">.</text>
<text transform="translate(211.20,641.80) scale(0.888,1)" font-family="Liberation Serif" font-size="14.8" text-anchor="middle" fill="#000">3</text>
<text transform="translate(240.20,613.00) scale(0.615,1)" font-family="Liberation Serif" font-size="14.8" text-anchor="middle" fill="#000">D</text>
<text transform="translate(247.50,613.00) scale(0.888,1)" font-family="Liberation Serif" font-size="14.8" text-anchor="middle" fill="#000">5</text>
<text transform="translate(236.55,641.80) scale(0.888,1)" font-family="Liberation Serif" font-size="14.8" text-anchor="middle" fill="#000">2</text>
<text transform="translate(243.85,641.80) scale(0.888,1)" font-family="Liberation Serif" font-size="14.8" text-anchor="middle" fill="#000">1</text>
<text transform="translate(251.15,641.80) scale(0.888,1)" font-family="Liberation Serif" font-size="14.8" text-anchor="middle" fill="#000">5</text>
<text transform="translate(284.10,613.00) scale(0.615,1)" font-family="Liberation Serif" font-size="14.8" text-anchor="middle" fill="#000">D</text>
<text transform="translate(291.40,613.00) scale(0.888,1)" font-family="Liberation Serif" font-size="14.8" text-anchor="middle" fill="#000">6</text>
<text transform="translate(276.80,641.80) scale(0.888,1)" font-family="Liberation Serif" font-size="14.8" text-anchor="middle" fill="#000">1</text>
<text transform="translate(284.10,641.80) scale(0.888,1)" font-family="Liberation Serif" font-size="14.8" text-anchor="middle" fill="#000">3</text>
<text x="288.35" y="641.80" font-family="Liberation Serif" font-size="14.8" fill="#000">.</text>
<text transform="translate(298.70,641.80) scale(0.888,1)" font-family="Liberation Serif" font-size="14.8" text-anchor="middle" fill="#000">5</text>
<text transform="translate(327.85,613.00) scale(0.615,1)" font-family="Liberation Serif" font-size="14.8" text-anchor="middle" fill="#000">D</text>
<text transform="translate(335.15,613.00) scale(0.888,1)" font-family="Liberation Serif" font-size="14.8" text-anchor="middle" fill="#000">7</text>
<text transform="translate(324.20,641.80) scale(0.888,1)" font-family="Liberation Serif" font-size="14.8" text-anchor="middle" fill="#000">2</text>
<text transform="translate(331.50,641.80) scale(0.888,1)" font-family="Liberation Serif" font-size="14.8" text-anchor="middle" fill="#000">0</text>
<text transform="translate(338.80,641.80) scale(0.888,1)" font-family="Liberation Serif" font-size="14.8" text-anchor="middle" fill="#000">0</text>
<text transform="translate(365.95,613.00) scale(0.615,1)" font-family="Liberation Serif" font-size="14.8" text-anchor="middle" fill="#000">D</text>
<text transform="translate(373.25,613.00) scale(0.888,1)" font-family="Liberation Serif" font-size="14.8" text-anchor="middle" fill="#000">8</text>
<text transform="translate(362.30,641.80) scale(0.499,1)" font-family="Liberation Serif" font-size="14.8" text-anchor="middle" fill="#000">M</text>
<text transform="translate(369.60,641.80) scale(0.888,1)" font-family="Liberation Serif" font-size="14.8" text-anchor="middle" fill="#000">1</text>
<text transform="translate(376.90,641.80) scale(0.888,1)" font-family="Liberation Serif" font-size="14.8" text-anchor="middle" fill="#000">2</text>
<text transform="translate(404.60,613.00) scale(0.615,1)" font-family="Liberation Serif" font-size="14.8" text-anchor="middle" fill="#000">D</text>
<text transform="translate(411.90,613.00) scale(0.888,1)" font-family="Liberation Serif" font-size="14.8" text-anchor="middle" fill="#000">9</text>
<text transform="translate(400.95,641.80) scale(0.888,1)" font-family="Liberation Serif" font-size="14.8" text-anchor="middle" fill="#000">2</text>
<text transform="translate(408.25,641.80) scale(0.888,1)" font-family="Liberation Serif" font-size="14.8" text-anchor="middle" fill="#000">0</text>
<text transform="translate(415.55,641.80) scale(0.888,1)" font-family="Liberation Serif" font-size="14.8" text-anchor="middle" fill="#000">0</text>
<text transform="translate(448.50,613.00) scale(0.727,1)" font-family="Liberation Serif" font-size="14.8" text-anchor="middle" fill="#000">L</text>
<text transform="translate(455.80,613.00) scale(0.888,1)" font-family="Liberation Serif" font-size="14.8" text-anchor="middle" fill="#000">1</text>
<text transform="translate(448.50,641.80) scale(0.888,1)" font-family="Liberation Serif" font-size="14.8" text-anchor="middle" fill="#000">8</text>
<text transform="translate(455.80,641.80) scale(0.888,1)" font-family="Liberation Serif" font-size="14.8" text-anchor="middle" fill="#000">2</text>
<text transform="translate(488.00,613.00) scale(0.727,1)" font-family="Liberation Serif" font-size="14.8" text-anchor="middle" fill="#000">L</text>
<text transform="translate(495.30,613.00) scale(0.888,1)" font-family="Liberation Serif" font-size="14.8" text-anchor="middle" fill="#000">2</text>
<text transform="translate(488.00,641.80) scale(0.888,1)" font-family="Liberation Serif" font-size="14.8" text-anchor="middle" fill="#000">2</text>
<text transform="translate(495.30,641.80) scale(0.888,1)" font-family="Liberation Serif" font-size="14.8" text-anchor="middle" fill="#000">0</text>
<text transform="translate(523.90,613.00) scale(0.727,1)" font-family="Liberation Serif" font-size="14.8" text-anchor="middle" fill="#000">L</text>
<text transform="translate(531.20,613.00) scale(0.888,1)" font-family="Liberation Serif" font-size="14.8" text-anchor="middle" fill="#000">3</text>
<text transform="translate(523.90,641.80) scale(0.888,1)" font-family="Liberation Serif" font-size="14.8" text-anchor="middle" fill="#000">1</text>
<text transform="translate(531.20,641.80) scale(0.888,1)" font-family="Liberation Serif" font-size="14.8" text-anchor="middle" fill="#000">5</text>
<text transform="translate(563.80,613.00) scale(0.727,1)" font-family="Liberation Serif" font-size="14.8" text-anchor="middle" fill="#000">L</text>
<text transform="translate(571.10,613.00) scale(0.888,1)" font-family="Liberation Serif" font-size="14.8" text-anchor="middle" fill="#000">4</text>
<text transform="translate(560.15,641.80) scale(0.888,1)" font-family="Liberation Serif" font-size="14.8" text-anchor="middle" fill="#000">1</text>
<text transform="translate(567.45,641.80) scale(0.888,1)" font-family="Liberation Serif" font-size="14.8" text-anchor="middle" fill="#000">0</text>
<text transform="translate(574.75,641.80) scale(0.888,1)" font-family="Liberation Serif" font-size="14.8" text-anchor="middle" fill="#000">5</text>
<text transform="translate(603.65,613.00) scale(0.727,1)" font-family="Liberation Serif" font-size="14.8" text-anchor="middle" fill="#000">L</text>
<text transform="translate(610.95,613.00) scale(0.888,1)" font-family="Liberation Serif" font-size="14.8" text-anchor="middle" fill="#000">5</text>
<text transform="translate(603.65,641.80) scale(0.888,1)" font-family="Liberation Serif" font-size="14.8" text-anchor="middle" fill="#000">1</text>
<text transform="translate(610.95,641.80) scale(0.888,1)" font-family="Liberation Serif" font-size="14.8" text-anchor="middle" fill="#000">0</text>
<text transform="translate(639.35,613.00) scale(0.727,1)" font-family="Liberation Serif" font-size="14.8" text-anchor="middle" fill="#000">L</text>
<text transform="translate(646.65,613.00) scale(0.888,1)" font-family="Liberation Serif" font-size="14.8" text-anchor="middle" fill="#000">6</text>
<text transform="translate(639.35,641.80) scale(0.888,1)" font-family="Liberation Serif" font-size="14.8" text-anchor="middle" fill="#000">8</text>
<text transform="translate(646.65,641.80) scale(0.888,1)" font-family="Liberation Serif" font-size="14.8" text-anchor="middle" fill="#000">3</text>
<text transform="translate(682.75,613.00) scale(0.727,1)" font-family="Liberation Serif" font-size="14.8" text-anchor="middle" fill="#000">L</text>
<text transform="translate(690.05,613.00) scale(0.888,1)" font-family="Liberation Serif" font-size="14.8" text-anchor="middle" fill="#000">7</text>
<text transform="translate(671.80,641.80) scale(0.888,1)" font-family="Liberation Serif" font-size="14.8" text-anchor="middle" fill="#000">2</text>
<text transform="translate(679.10,641.80) scale(0.888,1)" font-family="Liberation Serif" font-size="14.8" text-anchor="middle" fill="#000">2</text>
<text transform="translate(686.40,641.80) scale(0.888,1)" font-family="Liberation Serif" font-size="14.8" text-anchor="middle" fill="#000">8</text>
<text x="690.65" y="641.80" font-family="Liberation Serif" font-size="14.8" fill="#000">.</text>
<text transform="translate(701.00,641.80) scale(0.888,1)" font-family="Liberation Serif" font-size="14.8" text-anchor="middle" fill="#000">5</text>
<text transform="translate(733.15,613.00) scale(0.727,1)" font-family="Liberation Serif" font-size="14.8" text-anchor="middle" fill="#000">L</text>
<text transform="translate(740.45,613.00) scale(0.888,1)" font-family="Liberation Serif" font-size="14.8" text-anchor="middle" fill="#000">8</text>
<text transform="translate(722.20,641.80) scale(0.888,1)" font-family="Liberation Serif" font-size="14.8" text-anchor="middle" fill="#000">3</text>
<text transform="translate(729.50,641.80) scale(0.888,1)" font-family="Liberation Serif" font-size="14.8" text-anchor="middle" fill="#000">3</text>
<text transform="translate(736.80,641.80) scale(0.888,1)" font-family="Liberation Serif" font-size="14.8" text-anchor="middle" fill="#000">3</text>
<text x="741.05" y="641.80" font-family="Liberation Serif" font-size="14.8" fill="#000">.</text>
<text transform="translate(751.40,641.80) scale(0.888,1)" font-family="Liberation Serif" font-size="14.8" text-anchor="middle" fill="#000">5</text>
<text transform="translate(780.00,613.00) scale(0.615,1)" font-family="Liberation Serif" font-size="14.8" text-anchor="middle" fill="#000">A</text>
<text transform="translate(787.30,613.00) scale(0.888,1)" font-family="Liberation Serif" font-size="14.8" text-anchor="middle" fill="#000">1</text>
<text transform="translate(776.35,641.80) scale(0.888,1)" font-family="Liberation Serif" font-size="14.8" text-anchor="middle" fill="#000">1</text>
<text transform="translate(783.65,641.80) scale(0.888,1)" font-family="Liberation Serif" font-size="14.8" text-anchor="middle" fill="#000">7</text>
<text transform="translate(790.95,641.80) scale(0.888,1)" font-family="Liberation Serif" font-size="14.8" text-anchor="middle" fill="#000">9</text>
<text transform="translate(824.40,613.00) scale(0.615,1)" font-family="Liberation Serif" font-size="14.8" text-anchor="middle" fill="#000">A</text>
<text transform="translate(831.70,613.00) scale(0.888,1)" font-family="Liberation Serif" font-size="14.8" text-anchor="middle" fill="#000">2</text>
<text transform="translate(820.75,641.80) scale(0.888,1)" font-family="Liberation Serif" font-size="14.8" text-anchor="middle" fill="#000">1</text>
<text transform="translate(828.05,641.80) scale(0.888,1)" font-family="Liberation Serif" font-size="14.8" text-anchor="middle" fill="#000">8</text>
<text transform="translate(835.35,641.80) scale(0.888,1)" font-family="Liberation Serif" font-size="14.8" text-anchor="middle" fill="#000">0</text>
<text transform="translate(864.55,613.00) scale(0.798,1)" font-family="Liberation Serif" font-size="14.8" text-anchor="middle" fill="#000">S</text>
<text transform="translate(871.85,613.00) scale(0.888,1)" font-family="Liberation Serif" font-size="14.8" text-anchor="middle" fill="#000">1</text>
<text transform="translate(868.20,641.80) scale(0.888,1)" font-family="Liberation Serif" font-size="14.8" text-anchor="middle" fill="#000">6</text>
<text transform="translate(900.30,613.00) scale(0.798,1)" font-family="Liberation Serif" font-size="14.8" text-anchor="middle" fill="#000">S</text>
<text transform="translate(907.60,613.00) scale(0.888,1)" font-family="Liberation Serif" font-size="14.8" text-anchor="middle" fill="#000">2</text>
<text transform="translate(900.30,641.80) scale(0.888,1)" font-family="Liberation Serif" font-size="14.8" text-anchor="middle" fill="#000">7</text>
<text transform="translate(907.60,641.80) scale(0.888,1)" font-family="Liberation Serif" font-size="14.8" text-anchor="middle" fill="#000">0</text>
<text transform="translate(936.20,613.00) scale(0.798,1)" font-family="Liberation Serif" font-size="14.8" text-anchor="middle" fill="#000">S</text>
<text transform="translate(943.50,613.00) scale(0.888,1)" font-family="Liberation Serif" font-size="14.8" text-anchor="middle" fill="#000">3</text>
<text transform="translate(936.20,641.80) scale(0.888,1)" font-family="Liberation Serif" font-size="14.8" text-anchor="middle" fill="#000">1</text>
<text transform="translate(943.50,641.80) scale(0.888,1)" font-family="Liberation Serif" font-size="14.8" text-anchor="middle" fill="#000">0</text>
<text transform="translate(971.95,613.00) scale(0.798,1)" font-family="Liberation Serif" font-size="14.8" text-anchor="middle" fill="#000">S</text>
<text transform="translate(979.25,613.00) scale(0.888,1)" font-family="Liberation Serif" font-size="14.8" text-anchor="middle" fill="#000">4</text>
<text transform="translate(971.95,641.80) scale(0.888,1)" font-family="Liberation Serif" font-size="14.8" text-anchor="middle" fill="#000">4</text>
<text transform="translate(979.25,641.80) scale(0.888,1)" font-family="Liberation Serif" font-size="14.8" text-anchor="middle" fill="#000">2</text>
<text transform="translate(1011.35,613.00) scale(0.666,1)" font-family="Liberation Serif" font-size="14.8" text-anchor="middle" fill="#000">B</text>
<text transform="translate(1007.70,641.80) scale(0.888,1)" font-family="Liberation Serif" font-size="14.8" text-anchor="middle" fill="#000">1</text>
<text transform="translate(1015.00,641.80) scale(0.888,1)" font-family="Liberation Serif" font-size="14.8" text-anchor="middle" fill="#000">6</text>
<text transform="translate(1051.00,613.00) scale(0.615,1)" font-family="Liberation Serif" font-size="14.8" text-anchor="middle" fill="#000">H</text>
<text transform="translate(1047.35,641.80) scale(0.888,1)" font-family="Liberation Serif" font-size="14.8" text-anchor="middle" fill="#000">5</text>
<text transform="translate(1054.65,641.80) scale(0.888,1)" font-family="Liberation Serif" font-size="14.8" text-anchor="middle" fill="#000">9</text>
<text transform="translate(1088.90,613.00) scale(0.666,1)" font-family="Liberation Serif" font-size="14.8" text-anchor="middle" fill="#000">C</text>
<text transform="translate(1081.60,641.80) scale(0.499,1)" font-family="Liberation Serif" font-size="14.8" text-anchor="middle" fill="#000">M</text>
<text transform="translate(1088.90,641.80) scale(0.888,1)" font-family="Liberation Serif" font-size="14.8" text-anchor="middle" fill="#000">2</text>
<text transform="translate(1096.20,641.80) scale(0.888,1)" font-family="Liberation Serif" font-size="14.8" text-anchor="middle" fill="#000">0</text>
<text transform="translate(536.49,585.80) scale(0.670,1)" font-family="Liberation Serif" font-size="23.6" fill="#000">P</text>
<text transform="translate(545.37,585.80) scale(0.632,1)" font-family="Liberation Serif" font-size="23.6" fill="#000">M</text>
<text transform="translate(558.48,585.80) scale(0.807,1)" font-family="Liberation Serif" font-size="23.6" fill="#000">1</text>
<text transform="translate(568.76,585.80) scale(0.820,1)" font-family="Liberation Serif" font-size="23.6" fill="#000">8</text>
<text transform="translate(578.91,585.80) scale(0.880,1)" font-family="Liberation Serif" font-size="23.6" fill="#000">0</text>
<text transform="translate(602.05,585.80) scale(0.666,1)" font-family="Liberation Serif" font-size="23.6" fill="#000">L</text>
<text transform="translate(613.34,585.80) scale(0.930,1)" font-family="Liberation Serif" font-size="23.6" fill="#000">2</text>
<line x1="592.20" y1="578.40" x2="599.40" y2="578.40" stroke="#000" stroke-width="1.1"/>
</svg></body></html>
